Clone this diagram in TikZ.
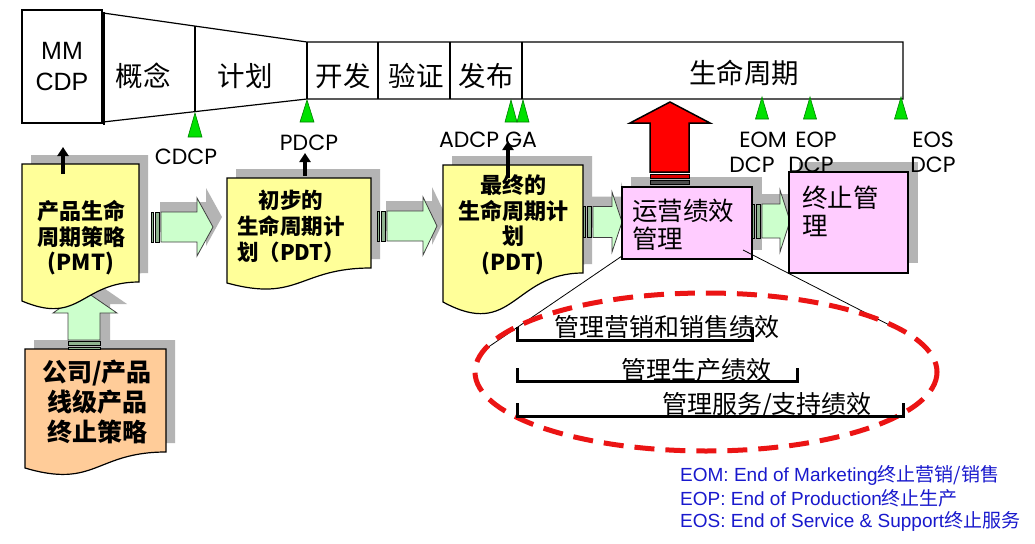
\documentclass[tikz,border=0pt]{standalone}
\usepackage{fontspec}
\setmainfont{Liberation Sans}
\newfontfamily\cjk{Noto Sans CJK SC}
\newfontfamily\geo{Poppins}
\usetikzlibrary{arrows.meta}
\definecolor{docyellow}{RGB}{255,255,153}
\definecolor{docorange}{RGB}{255,204,153}
\definecolor{boxpink}{RGB}{255,204,255}
\definecolor{arrgreen}{RGB}{204,255,204}
\definecolor{shadowgray}{RGB}{180,180,180}
\definecolor{trigreen}{RGB}{0,225,0}
\definecolor{txtblue}{RGB}{25,25,205}
\definecolor{dashred}{RGB}{235,20,20}
\tikzset{
  outl/.style={draw=black, line width=1.2},
  tri/.style={fill=trigreen, draw=black!50!green, line width=0.6},
  lbl/.style={font=\geo\fontsize{22}{24}\selectfont, inner sep=0},
  hdr/.style={font=\cjk\fontsize{27.5}{29}\selectfont, inner sep=0},
  doctxt/.style={font=\cjk\bfseries\fontsize{22}{25.5}\selectfont, align=center, inner sep=0},
  pinktxt/.style={font=\cjk\fontsize{25.5}{28}\selectfont, align=left, inner sep=0, anchor=west},
  mtxt/.style={font=\cjk\fontsize{25}{26}\selectfont, inner sep=0},
  legtxt/.style={font=\fontsize{19}{21}\selectfont, text=txtblue, inner sep=0, anchor=west},
  brk/.style={draw=black, line width=3},
  upblk/.style={line width=3.5, -{Triangle[width=11,length=9]}},
  gstripe/.style={fill=arrgreen!70!black, draw=black, line width=0.6},
}
\newcommand\docshape[6]{%
  \fill[shadowgray,shift={(9,-9)}] (#1,#2) -- (#3,#2) -- (#3,#4) .. controls ({(#1+#3)/2},#4) and ({(#1+#3)/2},{#5+1.31*(#5-#4)}) .. (#1,#5) -- cycle;
  \filldraw[fill=#6,outl] (#1,#2) -- (#3,#2) -- (#3,#4) .. controls ({(#1+#3)/2},#4) and ({(#1+#3)/2},{#5+1.31*(#5-#4)}) .. (#1,#5) -- cycle;}
% x0, xh, xt, yc, bh, hh
\newcommand\garrow[6]{%
  \fill[shadowgray,shift={(9,-10)}] (#1,#4-#5) -- (#2,#4-#5) -- (#2,#4-#6) -- (#3,#4) -- (#2,#4+#6) -- (#2,#4+#5) -- (#1,#4+#5) -- cycle;
  \filldraw[fill=arrgreen, draw=black!75, line width=0.8] (#1+10,#4-#5) -- (#2,#4-#5) -- (#2,#4-#6) -- (#3,#4) -- (#2,#4+#6) -- (#2,#4+#5) -- (#1+10,#4+#5) -- cycle;
  \filldraw[gstripe] (#1,#4-#5) rectangle (#1+2,#4+#5);
  \filldraw[gstripe] (#1+4,#4-#5) rectangle (#1+8.5,#4+#5);}
\begin{document}
\begin{tikzpicture}[x=1pt,y=-1pt]
\useasboundingbox (0,0) rectangle (1035,543);
\fill[white] (0,0) rectangle (1035,543);

% ---------- top phase bar ----------
\node[outl, minimum width=80, minimum height=113, inner sep=0, align=center,
      font=\fontsize{25}{31}\selectfont] (mm) at (62,66.5) {MM\\CDP};
\draw[line width=1.2] (103,13) -- (307,42) -- (903,42) -- (903,99) -- (307,99) -- (103,122);
\draw[line width=2.6] (104,12) -- (104,125);
\draw[line width=1.4] (195,26) -- (195,112);
\draw[line width=1.4] (307,42) -- (307,99);
\foreach \xx in {378,450,522} \draw[line width=1.2] (\xx,42) -- (\xx,99);
\node[hdr] (c1) at (143,76) {概念};
\node[hdr] (c2) at (245,76) {计划};
\node[hdr] (c3) at (343,76) {开发};
\node[hdr] (c4) at (416,76) {验证};
\node[hdr] (c5) at (486,76) {发布};
\node[hdr] (c6) at (744,73) {生命周期};

% triangles
\filldraw[tri] (188,137) -- (202,137) -- (195,113) -- cycle;
\filldraw[tri] (300,122) -- (314,122) -- (307,100) -- cycle;
\filldraw[tri] (505,122) -- (517,122) -- (511,100) -- cycle;
\filldraw[tri] (517,122) -- (529,122) -- (523,100) -- cycle;
\foreach \xx in {762,810,901} \filldraw[tri] (\xx-6.5,119) -- (\xx+6.5,119) -- (\xx,97) -- cycle;

% decision point labels
\node[lbl] (cdcp) at (186,157) {CDCP};
\node[lbl] (pdcp) at (309,143) {PDCP};
\node[lbl] (adcp) at (488,140) {ADCP GA};
\node[lbl] (eom) at (763,140) {EOM};
\node[lbl] (eomd) at (752,165) {DCP};
\node[lbl] (eop) at (816,140) {EOP};
\node[lbl] (eos) at (933,140) {EOS};

% ---------- orange document + up arrow ----------
\docshape{25}{349}{166}{452}{468}{docorange}
\fill[shadowgray,shift={(10,-9)}] (68,313) -- (53,313) -- (85,291) -- (117,313) -- (100,313) -- (100,349) -- (68,349) -- cycle;
\filldraw[fill=arrgreen, draw=black!75, line width=0.8] (68,313) -- (53,313) -- (85,291) -- (117,313) -- (100,313) -- (100,340) -- (68,340) -- cycle;
\filldraw[gstripe] (68,341.5) rectangle (100,345.5);
\filldraw[gstripe] (68,347) rectangle (100,349);
\node[doctxt, font=\cjk\bfseries\fontsize{25}{30}\selectfont] (corp) at (97,402) {公司/产品\\线级产品\\终止策略};

% ---------- yellow documents ----------
\docshape{22}{164}{139}{282}{301}{docyellow}
\node[doctxt] (pmt) at (81,238) {产品生命\\周期策略\\(PMT)};
\garrow{151}{197}{213}{227}{15}{29}
\docshape{227}{178}{371}{268}{283}{docyellow}
\node[doctxt, font=\cjk\bfseries\fontsize{21.5}{26}\selectfont] (ppdt) at (291,226) {初步的\\生命周期计\\划（PDT）};
\garrow{377}{423}{437}{226}{15}{29}
\docshape{443}{165}{583}{273}{302}{docyellow}
\node[doctxt] (fpdt) at (513,225) {最终的\\生命周期计\\划\\(PDT)};

% ---------- pink boxes ----------
\garrow{583}{612}{622}{222}{15.5}{30}
\fill[shadowgray] (631,177) rectangle (762,250);
\node[outl, fill=boxpink, minimum width=130, minimum height=72, inner sep=0] (opsbox) at (687,223) {};
\node[pinktxt] (ops) at (632,225) {运营绩效\\管理};
\garrow{752}{780}{790}{221}{17}{31}
\fill[shadowgray] (799,162) rectangle (918,263);
\node[lbl] (eopd) at (811,165) {DCP};
\node[lbl] (eosd) at (933,165) {DCP};
\node[outl, fill=boxpink, minimum width=119, minimum height=101, inner sep=0] (eolbox) at (848.5,222.5) {};
\node[pinktxt] (eol) at (802,211) {终止管\\理};

% red arrow
\filldraw[fill=red, draw=black, line width=1.5] (670,102) -- (710,123) -- (689,123) -- (689,172) -- (650,172) -- (650,123) -- (630,123) -- cycle;
\filldraw[fill=red!85!black, draw=black, line width=0.8] (650,174) rectangle (689,178);
\filldraw[fill=black!70, draw=black, line width=0.8] (650,180) rectangle (689,184.5);

% black up arrows
\coordinate (a1s) at (63,174); \coordinate (a1e) at (63,147);
\coordinate (a2s) at (305,176); \coordinate (a2e) at (305,153);
\coordinate (a3s) at (508,178); \coordinate (a3e) at (508,141);
\draw[upblk] (a1s) -- (a1e);
\draw[upblk] (a2s) -- (a2e);
\draw[upblk] (a3s) -- (a3e);

% ---------- zoom-out lines and dashed ellipse ----------
\coordinate (opsL) at (622,256);
\coordinate (opsR) at (743,250);
\coordinate (elL) at (484,350);
\coordinate (elR) at (903,332);
\draw[line width=0.8] (opsL) -- (elL);
\draw[line width=0.8] (opsR) -- (elR);
\draw[dashred, line width=5, dash pattern=on 20 off 11] (706,372) ellipse [x radius=231, y radius=79];

% brackets
\draw[brk] (517,327) -- (517,340) -- (752,340) -- (752,327);
\draw[brk] (517,368) -- (517,381) -- (797,381) -- (797,368);
\draw[brk] (517,403) -- (517,416) -- (903,416) -- (903,403);
\node[mtxt] (m1) at (667,327) {管理营销和销售绩效};
\node[mtxt] (m2) at (696,370) {管理生产绩效};
\node[mtxt] (m3) at (767,405) {管理服务/支持绩效};

% legend
\node[legtxt] (l1) at (680,475) {EOM: End of Marketing{\cjk 终止营销/销售}};
\node[legtxt] (l2) at (680,498) {EOP: End of Production{\cjk 终止生产}};
\node[legtxt] (l3) at (680,521) {EOS: End of Service \& Support{\cjk 终止服务}};
\end{tikzpicture}
\end{document}
